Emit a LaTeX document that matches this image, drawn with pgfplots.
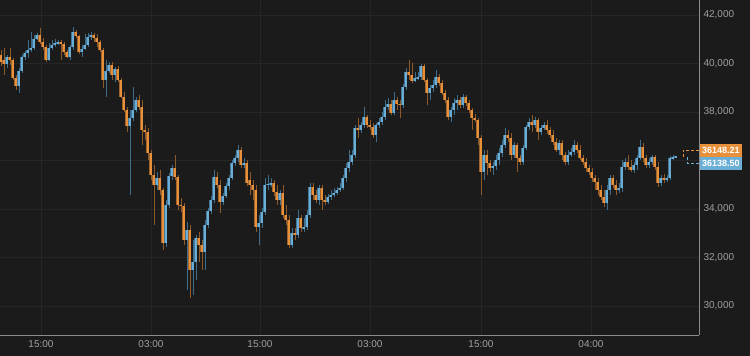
\documentclass[border=0pt]{standalone}
\usepackage{pgfplots}
\pgfplotsset{compat=1.18}
\usepackage{pgfplotstable}
\usepackage{fontspec}
\setmainfont{Liberation Sans}
\definecolor{bg}{HTML}{1B1B1B}
\definecolor{gridc}{HTML}{262626}
\definecolor{axc}{HTML}{8C8C8C}
\definecolor{tickc}{HTML}{A0A0A0}
\definecolor{upc}{HTML}{6BAFD6}
\definecolor{dnc}{HTML}{E8913A}
\definecolor{upw}{HTML}{3F6E8C}
\definecolor{dnw}{HTML}{8E5A2A}
\definecolor{ups}{HTML}{46789A}
\definecolor{dns}{HTML}{A0652C}

\pgfplotstableread{
x o h l c
1 40351 40557 39897 40062
4 40145 40639 39526 39980
7 39980 40351 39815 40268
10 40268 40639 39938 40145
13 40145 40227 39320 39402
16 39402 39526 38907 39072
19 39072 39815 38784 39691
22 39691 40351 39608 40268
25 40268 40516 40145 40433
28 40433 40969 40227 40557
31 40557 41299 40474 40639
34 40639 41176 40557 41011
37 41011 41258 40969 41176
40 41176 41464 40804 40887
43 40887 41052 40557 40681
46 40681 40763 40062 40145
49 40145 40846 40103 40639
52 40639 40969 40557 40763
55 40763 41011 40681 40846
58 40804 40969 40763 40887
61 40887 40969 40145 40804
64 40804 40887 40351 40474
67 40474 40557 40227 40268
70 40268 40763 40145 40681
73 40681 41506 40557 41299
76 41299 41382 41052 41134
79 41134 41176 40392 40474
82 40474 40763 40268 40598
85 40598 41217 40557 40763
88 40763 41258 40681 41093
91 41093 41299 40969 41176
94 41176 41258 40887 41052
97 41052 41217 40681 40887
100 40887 40969 40474 40557
103 40557 40639 38990 39320
106 39320 40145 38619 39691
109 39691 40062 39608 39938
112 39938 40062 39320 39526
115 39526 39856 39237 39773
118 39773 39897 39237 39320
121 39320 39402 38577 38619
124 38619 38825 38000 38083
127 38083 38206 37175 37423
130 37423 38083 34577 37753
133 37753 39031 37629 38083
136 38083 38619 38000 38495
139 38495 38701 38083 38206
142 38206 38495 36639 37258
145 37258 37464 36845 37175
148 37175 37340 36021 36309
151 36309 36433 35196 35402
154 35402 35815 33340 34990
157 34990 35526 34783 35278
160 35278 35608 34577 34783
163 34783 34866 32309 32598
166 32598 34371 32433 34165
169 34165 35485 34041 35361
172 35361 35815 35196 35691
175 35691 36227 35196 35320
178 35320 35402 33959 34165
181 34165 34454 33876 34124
184 34124 34247 32515 32721
187 32721 33464 30659 33134
190 33134 33340 30329 31484
193 31484 32721 30453 31814
196 31814 32928 31072 32805
199 32805 33051 31814 32515
202 32515 32721 31484 32227
205 32227 33546 31484 33340
208 33340 34041 33216 33917
211 33917 34536 33794 34371
214 34371 35608 34247 35320
217 35320 35526 34866 34990
220 34990 35196 33835 34289
223 34289 34660 34165 34536
226 34536 35072 34454 34948
229 34948 35402 34783 35278
232 35278 36021 35196 35897
235 35897 36227 35773 36103
238 36103 36639 35938 36433
241 36433 36557 35691 35815
244 35815 36103 35691 35897
247 35897 36021 34948 35072
250 35196 35526 34577 34990
253 34990 35196 34371 34783
256 34783 34990 33051 33258
259 33258 33752 32515 33423
262 33423 34041 33216 33876
265 33876 35278 33752 34990
268 34990 35402 34783 35031
271 35031 35278 34907 35072
274 35072 35196 34536 34701
277 34701 34990 34165 34371
280 34371 34783 34165 34660
283 34660 34990 33629 33752
286 33752 34165 33340 33546
289 33546 33752 32391 32515
292 32515 33216 32391 33010
295 33010 33216 32721 32928
298 32928 33959 32805 33629
301 33629 33752 33051 33216
304 33216 33629 33051 33258
307 33258 33959 33134 33752
310 33752 35072 33629 34907
313 34907 35072 34371 34577
316 34577 34783 34247 34371
319 34371 34990 34165 34866
322 34866 34990 33959 34371
325 34371 34577 34165 34289
328 34289 34618 34206 34495
331 34495 34783 34371 34577
334 34577 34866 34495 34660
337 34660 34907 34577 34783
340 34783 35072 34701 34866
343 34866 35402 34783 35278
346 35278 35897 35113 35691
349 35691 36433 35526 35938
352 35938 36433 35815 36227
355 36227 37464 36103 37340
358 37340 37753 36928 37258
361 37258 37587 37134 37464
364 37464 38206 37340 37794
367 37794 37876 37340 37464
370 37464 37670 37258 37381
373 37381 37546 36928 37052
376 37052 37546 36763 37464
379 37464 37753 37340 37587
382 37587 38000 37464 37794
385 37794 38495 37670 38206
388 38206 38577 38083 38330
391 38330 38495 37876 37959
394 37959 38825 37876 38495
397 38495 38619 38083 38330
400 38330 38495 37753 38289
403 38289 39155 38165 39031
406 39031 39815 38907 39650
409 39650 40145 39320 39526
412 39526 40021 39196 39279
415 39279 39650 39237 39402
418 39402 39650 39320 39443
421 39443 39980 39320 39897
424 39897 39980 39237 39320
427 39320 39402 38289 38784
430 38784 39114 38495 38990
433 38990 39320 38825 39114
436 39114 39732 38990 39443
439 39443 39567 39072 39196
442 39196 39320 38701 38784
445 38784 38907 38371 38495
448 38495 38619 37670 37794
451 37794 38206 37587 38083
454 38083 38577 37876 38371
457 38371 38701 38083 38495
460 38495 38619 38165 38289
463 38289 38742 38165 38619
466 38619 38701 38247 38371
469 38371 38495 37959 38083
472 38083 38165 37258 37753
475 37753 37918 37587 37670
478 37670 37753 36639 36928
481 36928 37052 34577 35526
484 35526 36433 35196 36227
487 36227 36433 35402 35897
490 35897 36021 35526 35691
493 35691 35938 35402 35773
496 35773 36227 35608 36021
499 36021 36515 35815 36309
502 36309 36845 36144 36639
505 36639 37340 36515 37052
508 37052 37258 36763 36928
511 36928 37134 36021 36227
514 36227 36763 36103 36639
517 36639 36722 35526 36103
520 36103 36227 35815 35938
523 35938 36639 35815 36515
526 36515 37464 36433 37381
529 37381 37753 37258 37587
532 37587 37876 37175 37464
535 37464 37794 37340 37670
538 37670 37753 36845 37175
541 37175 37464 37052 37340
544 37340 37587 37258 37464
547 37464 37670 37093 37258
550 37258 37381 36928 37052
553 37052 37258 36639 36763
556 36763 36928 36350 36433
559 36433 36845 36227 36722
562 36722 36845 36021 36227
565 36227 36350 35815 35938
568 35938 36433 35815 36227
571 36227 36515 36144 36350
574 36350 36845 36227 36639
577 36639 36763 36309 36433
580 36433 36639 36021 36103
583 36103 36227 35815 35938
586 35938 36103 35526 35691
589 35691 35815 35402 35526
592 35526 35691 35113 35278
595 35278 35402 34783 35113
598 35113 35278 34577 34783
601 34783 34990 34371 34495
604 34495 34783 34082 34247
607 34247 34990 33959 34783
610 34783 35402 34577 35278
613 35278 35402 34866 34990
616 34990 35196 34577 34783
619 34783 35072 34660 34866
622 34866 36021 34701 35732
625 35732 36103 35608 35938
628 35938 36227 35608 35732
631 35732 36021 35526 35608
634 35608 35938 35485 35815
637 35815 36227 35608 36103
640 36103 36845 36021 36557
643 36557 36722 35938 36103
646 36103 36227 35691 35815
649 35815 36103 35691 35938
652 35938 36227 35815 36144
655 36144 36227 35608 35732
658 35732 35938 34907 35072
661 35072 35402 34948 35278
664 35278 35443 35072 35196
667 35196 35402 35113 35278
670 35278 36186 35196 36103
673 36103 36227 36021 36144
676 36144 36186 36103 36148
}\candles

\pgfplotsset{
  candle/.style={only marks, mark=*, mark size=0pt,
    mark options={draw=none, fill=none}, forget plot,
    error bars/.cd, y dir=both, y explicit, error mark=none,
    error bar style={#1}},
}

\begin{document}
\begin{tikzpicture}[x=1pt,y=1pt]
\fill[bg] (0,-21) rectangle (750,335);
\path[use as bounding box] (0,-21) rectangle (750,335);
\begin{axis}[
  at={(0,0)}, anchor=south west,
  width=699pt, height=335pt, scale only axis,
  xmin=0, xmax=699, ymin=28804, ymax=42619,
  axis x line*=bottom, axis y line*=right,
  axis line style={axc, line width=0.9pt},
  grid=major, major grid style={gridc, line width=0.6pt},
  major tick length=0pt,
  xtick={41,151,260,370,481,591},
  xticklabels={15:00,03:00,15:00,03:00,15:00,04:00},
  ytick={30000,32000,34000,36000,38000,40000,42000},
  yticklabels={{30,000},{32,000},{34,000},{},{38,000},{40,000},{42,000}},
  tick label style={tickc, font=\fontsize{10}{12}\selectfont},
  yticklabel style={xshift=1pt},
  xticklabel style={yshift=-2pt},
  clip=false,
]
% wicks up
\addplot[candle={upw, line width=1pt}]
  table[x=x, y expr={\thisrow{c}>=\thisrow{o} ? (\thisrow{h}+\thisrow{l})/2 : nan},
        y error plus expr={(\thisrow{h}-\thisrow{l})/2},
        y error minus expr={(\thisrow{h}-\thisrow{l})/2}] {\candles};
% wicks down
\addplot[candle={dnw, line width=1pt}]
  table[x=x, y expr={\thisrow{c}<\thisrow{o} ? (\thisrow{h}+\thisrow{l})/2 : nan},
        y error plus expr={(\thisrow{h}-\thisrow{l})/2},
        y error minus expr={(\thisrow{h}-\thisrow{l})/2}] {\candles};
% shadow bodies up
\addplot[candle={ups, line width=2.6pt}]
  table[x expr={\thisrow{x}-1.1}, y expr={\thisrow{c}>=\thisrow{o} ? (\thisrow{o}+\thisrow{c})/2 : nan},
        y error plus expr={max(abs(\thisrow{c}-\thisrow{o})/2,20)},
        y error minus expr={max(abs(\thisrow{c}-\thisrow{o})/2,20)}] {\candles};
% shadow bodies down
\addplot[candle={dns, line width=2.6pt}]
  table[x expr={\thisrow{x}-1.1}, y expr={\thisrow{c}<\thisrow{o} ? (\thisrow{o}+\thisrow{c})/2 : nan},
        y error plus expr={max(abs(\thisrow{c}-\thisrow{o})/2,20)},
        y error minus expr={max(abs(\thisrow{c}-\thisrow{o})/2,20)}] {\candles};
% bodies up
\addplot[candle={upc, line width=2.6pt}]
  table[x=x, y expr={\thisrow{c}>=\thisrow{o} ? (\thisrow{o}+\thisrow{c})/2 : nan},
        y error plus expr={max(abs(\thisrow{c}-\thisrow{o})/2,20)},
        y error minus expr={max(abs(\thisrow{c}-\thisrow{o})/2,20)}] {\candles};
% bodies down
\addplot[candle={dnc, line width=2.6pt}]
  table[x=x, y expr={\thisrow{c}<\thisrow{o} ? (\thisrow{o}+\thisrow{c})/2 : nan},
        y error plus expr={max(abs(\thisrow{c}-\thisrow{o})/2,20)},
        y error minus expr={max(abs(\thisrow{c}-\thisrow{o})/2,20)}] {\candles};
% last price markers
\draw[dnc, line width=0.8pt, dash pattern=on 3pt off 2pt] (axis cs:683,36144) -- (axis cs:683,36433) -- (axis cs:699,36433);
\draw[upc, line width=0.8pt, dash pattern=on 3pt off 2pt] (axis cs:687,36144) -- (axis cs:687,35897) -- (axis cs:699,35897);
\node[fill=dnc, text=white, anchor=west, inner xsep=2.5pt, inner ysep=0pt, minimum height=13pt,
  font=\bfseries\fontsize{9}{10}\selectfont] at (axis cs:699.5,36420) {36148.21};
\node[fill=upc, text=white, anchor=west, inner xsep=2.5pt, inner ysep=0pt, minimum height=13pt,
  font=\bfseries\fontsize{9}{10}\selectfont] at (axis cs:699.5,35880) {36138.50};
\end{axis}
\end{tikzpicture}
\end{document}
